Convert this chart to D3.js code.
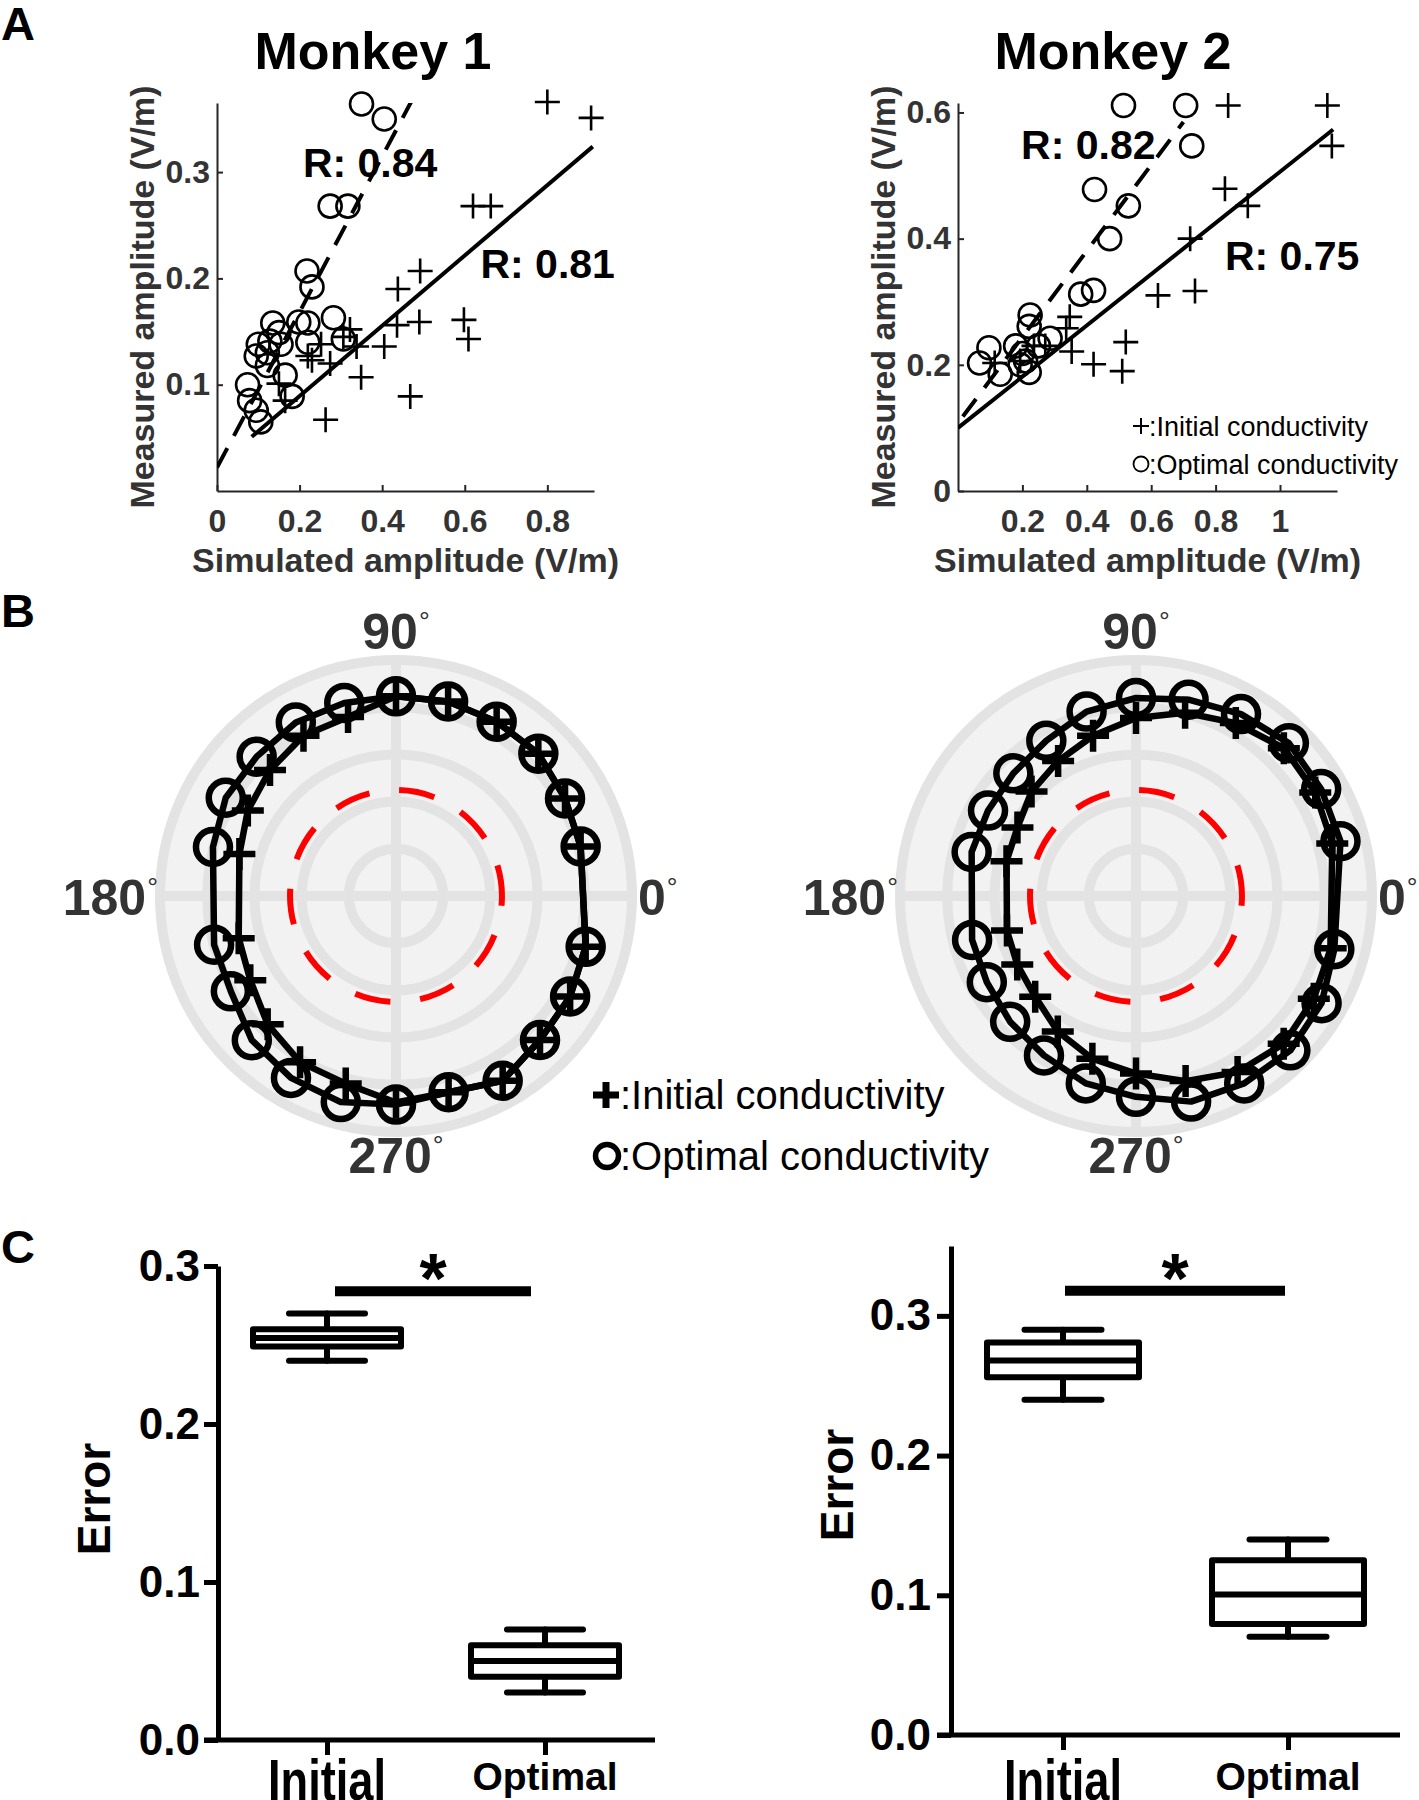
<!DOCTYPE html>
<html>
<head>
<meta charset="utf-8">
<script src="https://d3js.org/d3.v7.min.js"></script>
<style>
  body { margin: 0; background: #fff; }
  text { font-family: 'Liberation Sans', Arial, Helvetica, sans-serif; }
</style>
</head>
<body>
<div id="fig"></div>
<script>
// ---------- data ----------
// panel A : [simulated, measured] amplitude (V/m)
const m1Optimal = [[0.35,0.364],[0.405,0.35],[0.274,0.268],[0.317,0.268],[0.218,0.207],[0.23,0.192],
  [0.198,0.159],[0.22,0.158],[0.282,0.163],[0.135,0.158],[0.15,0.149],[0.128,0.141],[0.1,0.138],
  [0.095,0.127],[0.155,0.138],[0.122,0.13],[0.165,0.109],[0.074,0.1],[0.079,0.085],[0.095,0.076],
  [0.106,0.065],[0.182,0.089],[0.306,0.143],[0.22,0.14],[0.122,0.118]];
const m1Initial = [[0.8,0.366],[0.906,0.351],[0.62,0.268],[0.663,0.268],[0.492,0.207],[0.438,0.19],
  [0.49,0.159],[0.436,0.156],[0.598,0.161],[0.609,0.143],[0.405,0.136],[0.349,0.107],[0.468,0.089],
  [0.263,0.067],[0.322,0.152],[0.338,0.136],[0.274,0.12],[0.23,0.123],[0.252,0.138],[0.165,0.085],
  [0.15,0.101],[0.306,0.145],[0.22,0.127]];
const m2Optimal = [[0.514,0.611],[0.707,0.611],[0.726,0.547],[0.424,0.478],[0.529,0.452],[0.471,0.4],
  [0.381,0.312],[0.421,0.318],[0.224,0.279],[0.221,0.261],[0.286,0.242],[0.096,0.227],[0.067,0.203],
  [0.131,0.185],[0.179,0.23],[0.2,0.218],[0.21,0.206],[0.221,0.188],[0.193,0.2],[0.25,0.23]];
const m2Initial = [[0.839,0.611],[1.147,0.611],[1.161,0.547],[0.829,0.479],[0.9,0.452],[0.721,0.4],
  [0.736,0.317],[0.621,0.31],[0.521,0.236],[0.51,0.19],[0.421,0.201],[0.353,0.221],[0.347,0.276],
  [0.336,0.258],[0.271,0.23],[0.236,0.23],[0.114,0.203],[0.193,0.206]];
// regression lines, end points in data units
const m1FitInitial = [[0.084,0.051],[0.91,0.324]];
const m1FitOptimal = [[0,0.022],[0.47,0.366]];
const m2FitInitial = [[0,0.1],[1.165,0.573]];
const m2FitOptimal = [[0.015,0.118],[0.70,0.585]];
const m1R = ["0.84","0.81"];   // optimal, initial
const m2R = ["0.82","0.75"];
const m1XTicks = [0,0.2,0.4,0.6,0.8], m1YTicks = [0.1,0.2,0.3];
const m2XTicks = [0.2,0.4,0.6,0.8,1], m2YTicks = [0,0.2,0.4,0.6];

// panel B : normalised amplitude per direction (deg)
const polarAngles = [15,30,45,60,75,90,105,120,135,150,165,195,210,225,240,255,270,285,300,315,330,345];
const m1PolarOptimal = [0.81,0.827,0.853,0.853,0.853,0.846,0.847,0.849,0.835,0.833,0.803,
  0.798,0.808,0.864,0.89,0.904,0.884,0.861,0.904,0.863,0.852,0.832];
const m1PolarInitial = [0.81,0.827,0.853,0.853,0.853,0.846,0.785,0.784,0.755,0.725,0.687,
  0.69,0.713,0.769,0.813,0.823,0.875,0.861,0.904,0.863,0.852,0.832];
const m2PolarOptimal = [0.897,0.906,0.916,0.89,0.861,0.839,0.809,0.76,0.735,0.724,0.721,
  0.719,0.73,0.754,0.78,0.822,0.851,0.902,0.917,0.925,0.908,0.87];
const m2PolarInitial = [0.861,0.877,0.886,0.846,0.804,0.754,0.703,0.66,0.626,0.58,0.568,
  0.566,0.581,0.604,0.663,0.714,0.752,0.812,0.861,0.885,0.87,0.854];
const polarRings = [0.2,0.4,0.6,0.8,1.0];
const polarThreshold = 0.449;
const polarLabels = [0,90,180,270];

// panel C : box plot of error
const boxCats = ["Initial","Optimal"];
const m1Box = [[0.24,0.249,0.2545,0.26,0.27],[0.03,0.04,0.05,0.06,0.07]];   // min q1 med q3 max
const m2Box = [[0.24,0.256,0.268,0.281,0.29],[0.0704,0.0795,0.1005,0.125,0.14]];
const m1CTicks = [0,0.1,0.2,0.3], m2CTicks = [0,0.1,0.2,0.3];
const m1Sig = 0.284, m2Sig = 0.318;

// ---------- drawing ----------
const svg = d3.select("#fig").append("svg").attr("width",1419).attr("height",1800);
svg.append("rect").attr("width",1419).attr("height",1800).attr("fill","#fff");

const plusPath = a => `M${-a},0H${a}M0,${-a}V${a}`;

// panel letters
[["A",40],["B",627],["C",1263]].forEach(([t,y]) => {
  svg.append("text").attr("x",1).attr("y",y).attr("font-size",47).attr("font-weight","bold").text(t);
});

function scatterPanel(c) {
  const x = d3.scaleLinear().domain(c.xDomain).range(c.xRange);
  const y = d3.scaleLinear().domain(c.yDomain).range(c.yRange);
  const g = svg.append("g");
  const axisCol = "#262626";

  const xa = g.append("g").attr("transform",`translate(0,${c.yRange[0]})`)
    .call(d3.axisBottom(x).tickValues(c.xTicks).tickSize(-6).tickSizeOuter(0).tickPadding(18).tickFormat(d => d));
  const ya = g.append("g").attr("transform",`translate(${c.xRange[0]},0)`)
    .call(d3.axisLeft(y).tickValues(c.yTicks).tickSize(-6).tickSizeOuter(0).tickPadding(7).tickFormat(d => d));
  [xa,ya].forEach(a => {
    a.select(".domain").attr("stroke",axisCol).attr("stroke-width",2);
    a.selectAll(".tick line").attr("stroke",axisCol).attr("stroke-width",2);
    a.selectAll(".tick text").attr("font-size",32).attr("font-weight","bold").attr("fill","#333")
      .attr("font-family","'Liberation Sans', Arial, sans-serif");
  });

  // titles
  g.append("text").attr("x",c.titleX).attr("y",69).attr("text-anchor","middle")
    .attr("font-size",52).attr("font-weight","bold").text(c.title);
  g.append("text").attr("x",(c.xRange[0]+c.xRange[1])/2).attr("y",572).attr("text-anchor","middle")
    .attr("font-size",34).attr("font-weight","bold").attr("fill","#333").text("Simulated amplitude (V/m)");
  g.append("text").attr("transform",`translate(${c.yLabelX},${(c.yRange[0]+c.yRange[1])/2}) rotate(-90)`)
    .attr("text-anchor","middle").attr("font-size",34).attr("font-weight","bold").attr("fill","#333")
    .text("Measured amplitude (V/m)");

  const clipId = "clip" + c.title.replace(/\s/g,"");
  g.append("clipPath").attr("id",clipId).append("rect")
    .attr("x",c.xRange[0]).attr("y",c.yRange[1]).attr("width",c.xRange[1]-c.xRange[0]).attr("height",c.yRange[0]-c.yRange[1]);
  const line = d3.line().x(d => x(d[0])).y(d => y(d[1]));

  // markers (not clipped, as in the original)
  g.selectAll(".ini").data(c.initial).join("path").attr("class","ini")
    .attr("d",plusPath(12.5)).attr("transform",d => `translate(${x(d[0])},${y(d[1])})`)
    .attr("stroke","#000").attr("stroke-width",2.6).attr("fill","none");
  g.selectAll(".opt").data(c.optimal).join("circle").attr("class","opt")
    .attr("cx",d => x(d[0])).attr("cy",d => y(d[1])).attr("r",11.5)
    .attr("stroke","#000").attr("stroke-width",2.6).attr("fill","none");

  const fits = g.append("g").attr("clip-path",`url(#${clipId})`);
  fits.append("path").attr("d",line(c.fitInitial)).attr("stroke","#000").attr("stroke-width",4).attr("fill","none");
  fits.append("path").attr("d",line(c.fitOptimal)).attr("stroke","#000").attr("stroke-width",4)
    .attr("stroke-dasharray","22,14").attr("fill","none");

  g.append("text").attr("x",x(c.rPos[0][0])).attr("y",y(c.rPos[0][1])).attr("font-size",41).attr("font-weight","bold")
    .text("R: " + c.r[0]);
  g.append("text").attr("x",x(c.rPos[1][0])).attr("y",y(c.rPos[1][1])).attr("font-size",41).attr("font-weight","bold")
    .text("R: " + c.r[1]);
  return g;
}

scatterPanel({title:"Monkey 1", titleX:373, xDomain:[0,0.913], xRange:[217,594], yDomain:[0,0.365], yRange:[491,103],
  xTicks:m1XTicks, yTicks:m1YTicks, yLabelX:154, optimal:m1Optimal, initial:m1Initial,
  fitInitial:m1FitInitial, fitOptimal:m1FitOptimal, r:m1R, rPos:[[0.208,0.295],[0.638,0.2]]});
const g2 = scatterPanel({title:"Monkey 2", titleX:1113, xDomain:[0,1.177], xRange:[958,1337], yDomain:[0,0.615], yRange:[491,103],
  xTicks:m2XTicks, yTicks:m2YTicks, yLabelX:895, optimal:m2Optimal, initial:m2Initial,
  fitInitial:m2FitInitial, fitOptimal:m2FitOptimal, r:m2R, rPos:[[0.196,0.527],[0.829,0.351]]});

// small legend in A (Monkey 2)
const legA = g2.append("g");
legA.append("path").attr("d",plusPath(8)).attr("transform","translate(1141,426)").attr("stroke","#000").attr("stroke-width",2).attr("fill","none");
legA.append("circle").attr("cx",1141).attr("cy",464).attr("r",7.5).attr("stroke","#000").attr("stroke-width",1.8).attr("fill","none");
legA.append("text").attr("x",1149).attr("y",436).attr("font-size",27).text(":Initial conductivity");
legA.append("text").attr("x",1149).attr("y",474).attr("font-size",27).text(":Optimal conductivity");

// ---------- panel B ----------
function polarPanel(cx, cy, optimal, initial) {
  const r = d3.scaleLinear().domain([0,1]).range([0,236]);
  const g = svg.append("g").attr("transform",`translate(${cx},${cy})`);
  const grid = "#e3e3e3";
  g.append("circle").attr("r",r(1)).attr("fill","#f2f2f2");
  g.selectAll(".ring").data(polarRings).join("circle").attr("class","ring")
    .attr("r",d => r(d)).attr("fill","none").attr("stroke",grid).attr("stroke-width",10);
  g.selectAll(".spoke").data(polarLabels).join("line").attr("class","spoke")
    .attr("x2",d => r(1)*Math.cos(d*Math.PI/180)).attr("y2",d => -r(1)*Math.sin(d*Math.PI/180))
    .attr("stroke",grid).attr("stroke-width",10);
  g.append("circle").attr("r",r(polarThreshold)).attr("fill","none").attr("stroke","#ff0000")
    .attr("stroke-width",6).attr("stroke-dasharray","36,30").attr("stroke-dashoffset",26);

  const toPts = vals => polarAngles.map((a,i) => [a, vals[i]]);
  const radial = d3.lineRadial().angle(d => (90 - d[0]) * Math.PI/180).radius(d => r(d[1])).curve(d3.curveLinearClosed);
  const pos = d => [r(d[1])*Math.cos(d[0]*Math.PI/180), -r(d[1])*Math.sin(d[0]*Math.PI/180)];

  g.append("path").attr("d",radial(toPts(initial))).attr("fill","none").attr("stroke","#000").attr("stroke-width",6.5).attr("stroke-linejoin","round");
  g.append("path").attr("d",radial(toPts(optimal))).attr("fill","none").attr("stroke","#000").attr("stroke-width",6.5).attr("stroke-linejoin","round");
  g.selectAll(".pi").data(toPts(initial)).join("path").attr("class","pi")
    .attr("d",plusPath(16)).attr("transform",d => `translate(${pos(d)})`)
    .attr("stroke","#000").attr("stroke-width",6.5).attr("fill","none");
  g.selectAll(".po").data(toPts(optimal)).join("circle").attr("class","po")
    .attr("cx",d => pos(d)[0]).attr("cy",d => pos(d)[1]).attr("r",17)
    .attr("stroke","#000").attr("stroke-width",6.5).attr("fill","none");

  // angle labels
  const lab = [
    {a:90, x:0, y:-247, anchor:"middle"},
    {a:270, x:0, y:277, anchor:"middle"},
    {a:180, x:-238, y:19, anchor:"end"},
    {a:0, x:242, y:19, anchor:"start"}];
  lab.forEach(l => {
    const t = g.append("text").attr("x",l.x).attr("y",l.y).attr("text-anchor",l.anchor)
      .attr("font-size",50).attr("font-weight","bold").attr("fill","#333");
    t.append("tspan").text(l.a);
    t.append("tspan").attr("dx",1).attr("dy",-18).attr("font-size",27).attr("font-weight","normal").text("°");
  });
}
polarPanel(396, 896, m1PolarOptimal, m1PolarInitial);
polarPanel(1136, 896, m2PolarOptimal, m2PolarInitial);

// legend B
svg.append("path").attr("d",plusPath(13)).attr("transform","translate(606,1095)").attr("stroke","#000").attr("stroke-width",7).attr("fill","none");
svg.append("circle").attr("cx",607).attr("cy",1156).attr("r",11.5).attr("stroke","#000").attr("stroke-width",5.5).attr("fill","none");
svg.append("text").attr("x",620).attr("y",1109).attr("font-size",40).text(":Initial conductivity");
svg.append("text").attr("x",620).attr("y",1170).attr("font-size",40).text(":Optimal conductivity");

// ---------- panel C ----------
function boxPanel(c) {
  const y = d3.scaleLinear().domain(c.yDomain).range(c.yRange);
  const x = d3.scalePoint().domain(boxCats).range(c.xRange);
  const g = svg.append("g");
  const bw = c.boxW, cw = c.capW;

  const ya = g.append("g").attr("transform",`translate(${c.axisX},0)`)
    .call(d3.axisLeft(y).tickValues(c.ticks).tickSize(14).tickSizeOuter(0).tickPadding(c.pad).tickFormat(d3.format(".1f")));
  ya.select(".domain").attr("stroke","#000").attr("stroke-width",5);
  ya.selectAll(".tick line").attr("stroke","#000").attr("stroke-width",5);
  ya.selectAll(".tick text").attr("font-size",44).attr("font-weight","bold").attr("fill","#000")
    .attr("font-family","'Liberation Sans', Arial, sans-serif");

  const xa = g.append("g").attr("transform",`translate(0,${c.yRange[0]})`)
    .call(d3.axisBottom(x).tickSize(15).tickSizeOuter(0).tickFormat(""));
  xa.select(".domain").remove();
  xa.selectAll(".tick line").attr("stroke","#000").attr("stroke-width",5);
  g.append("line").attr("x1",c.axisX-14).attr("x2",c.xEnd).attr("y1",c.yRange[0]).attr("y2",c.yRange[0])
    .attr("stroke","#000").attr("stroke-width",5);

  c.box.forEach((b,i) => {
    const cx = x(boxCats[i]);
    const bg = g.append("g").attr("stroke","#000").attr("stroke-width",6).attr("stroke-linecap","round").attr("stroke-linejoin","round");
    bg.append("line").attr("x1",cx).attr("x2",cx).attr("y1",y(b[0])).attr("y2",y(b[4]));
    bg.append("line").attr("x1",cx-cw/2).attr("x2",cx+cw/2).attr("y1",y(b[0])).attr("y2",y(b[0]));
    bg.append("line").attr("x1",cx-cw/2).attr("x2",cx+cw/2).attr("y1",y(b[4])).attr("y2",y(b[4]));
    bg.append("rect").attr("x",cx-bw/2).attr("width",bw).attr("y",y(b[3])).attr("height",y(b[1])-y(b[3])).attr("fill","#fff");
    bg.append("line").attr("x1",cx-bw/2).attr("x2",cx+bw/2).attr("y1",y(b[2])).attr("y2",y(b[2]));
  });

  // x labels
  g.append("text").attr("x",x("Initial")).attr("y",1800).attr("text-anchor","middle").attr("font-size",58)
    .attr("font-weight","bold").attr("textLength",118).attr("lengthAdjust","spacingAndGlyphs").text("Initial");
  g.append("text").attr("x",x("Optimal")).attr("y",1790).attr("text-anchor","middle").attr("font-size",39)
    .attr("font-weight","bold").text("Optimal");

  g.append("text").attr("transform",`translate(${c.labelX},${c.labelY}) rotate(-90)`).attr("text-anchor","middle")
    .attr("font-size",46).attr("font-weight","bold").text("Error");

  // significance
  const x1 = x("Initial") + c.sigInset[0], x2 = x("Optimal") - c.sigInset[1];
  g.append("line").attr("x1",x1).attr("x2",x2).attr("y1",y(c.sig)).attr("y2",y(c.sig)).attr("stroke","#000").attr("stroke-width",10);
  g.append("text").attr("x",(x1+x2)/2).attr("y",y(c.sig)+12).attr("text-anchor","middle").attr("font-size",70)
    .attr("font-weight","bold").text("*");
}
boxPanel({yDomain:[0,0.3], yRange:[1740,1266], xRange:[327,545], axisX:218, xEnd:655, pad:4,
  ticks:m1CTicks, box:m1Box, boxW:148, capW:76, labelX:110, labelY:1499, sig:m1Sig, sigInset:[8,14]});
boxPanel({yDomain:[0,0.35], yRange:[1735,1246], xRange:[1063,1288], axisX:951, xEnd:1400, pad:6,
  ticks:m2CTicks, box:m2Box, boxW:152, capW:77, labelX:853, labelY:1485, sig:m2Sig, sigInset:[2,3]});
</script>
</body>
</html>
